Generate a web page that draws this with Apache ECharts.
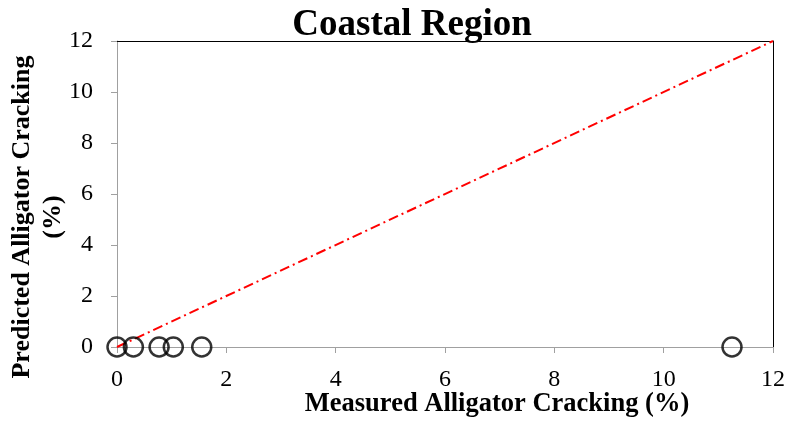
<!DOCTYPE html>
<html>
<head>
<meta charset="utf-8">
<script src="https://cdn.jsdelivr.net/npm/echarts@6/dist/echarts.min.js"></script>
<style>
  html, body { margin: 0; padding: 0; background: #fff; }
  #chart { width: 790px; height: 421px; }
</style>
</head>
<body>
<div id="chart"></div>
<script>
// measured vs predicted values
const measured = [0, 0.3, 0.77, 1.03, 1.55, 11.25]
const predicted = [0, 0, 0, 0, 0, 0]
// line of equality
const equalityLine = [[0, 0], [12, 12]]

const serif = '"Liberation Serif", "Times New Roman", serif'
const points = measured.map((m, i) => [m, predicted[i]])

const chart = echarts.init(document.getElementById('chart'))

chart.setOption({
  animation: false,
  title: {
    text: 'Coastal Region',
    left: 412,
    textAlign: 'center',
    top: 7,
    padding: 0,
    textStyle: { fontFamily: serif, fontSize: 37, fontWeight: 'bold', color: '#000' }
  },
  grid: { left: 117, right: 17, top: 41, bottom: 74, outerBoundsMode: 'none' },
  xAxis: [
    {
      type: 'value',
      min: 0,
      max: 12,
      interval: 2,
      name: 'Measured Alligator Cracking (%)',
      nameLocation: 'middle',
      nameGap: 44,
      nameMoveOverlap: false,
      nameTextStyle: {
        fontFamily: serif, fontSize: 26.5, fontWeight: 'bold', color: '#000',
        padding: [0, 0, 0, 104]
      },
      axisLine: { onZero: false, lineStyle: { color: '#a0a0a0', width: 1 } },
      axisTick: { show: true, length: 6, lineStyle: { color: '#a0a0a0' } },
      axisLabel: { margin: 21, fontFamily: serif, fontSize: 24, color: '#000' },
      splitLine: { show: false }
    },
    {
      type: 'value',
      position: 'top',
      min: 0,
      max: 12,
      axisLine: { show: true, onZero: false, lineStyle: { color: '#000', width: 1 } },
      axisTick: { show: false },
      axisLabel: { show: false },
      splitLine: { show: false }
    }
  ],
  yAxis: [
    {
      type: 'value',
      min: 0,
      max: 12,
      interval: 2,
      name: 'Predicted Alligator Cracking\n(%)',
      nameLocation: 'middle',
      nameRotate: 90,
      nameGap: 48,
      nameMoveOverlap: false,
      nameTextStyle: {
        fontFamily: serif, fontSize: 26, fontWeight: 'bold', color: '#000',
        lineHeight: 31, align: 'center',
        padding: [0, 46, 0, 0]
      },
      axisLine: { show: true, onZero: false, lineStyle: { color: '#a0a0a0', width: 1 } },
      axisTick: { show: true, length: 6, lineStyle: { color: '#a0a0a0' } },
      axisLabel: { margin: 24, fontFamily: serif, fontSize: 24, color: '#000' },
      splitLine: { show: false }
    },
    {
      type: 'value',
      position: 'right',
      min: 0,
      max: 12,
      axisLine: { show: true, onZero: false, lineStyle: { color: '#000', width: 1 } },
      axisTick: { show: false },
      axisLabel: { show: false },
      splitLine: { show: false }
    }
  ],
  series: [
    {
      type: 'line',
      data: equalityLine,
      symbol: 'none',
      lineStyle: { color: '#ff0000', width: 2, type: [10, 4, 2, 4] },
      z: 2
    },
    {
      type: 'scatter',
      data: points,
      symbol: 'circle',
      symbolSize: 19,
      clip: false,
      itemStyle: { color: 'rgba(0,0,0,0)', borderColor: '#000', borderWidth: 2.5 },
      z: 3
    }
  ]
})
</script>
</body>
</html>
